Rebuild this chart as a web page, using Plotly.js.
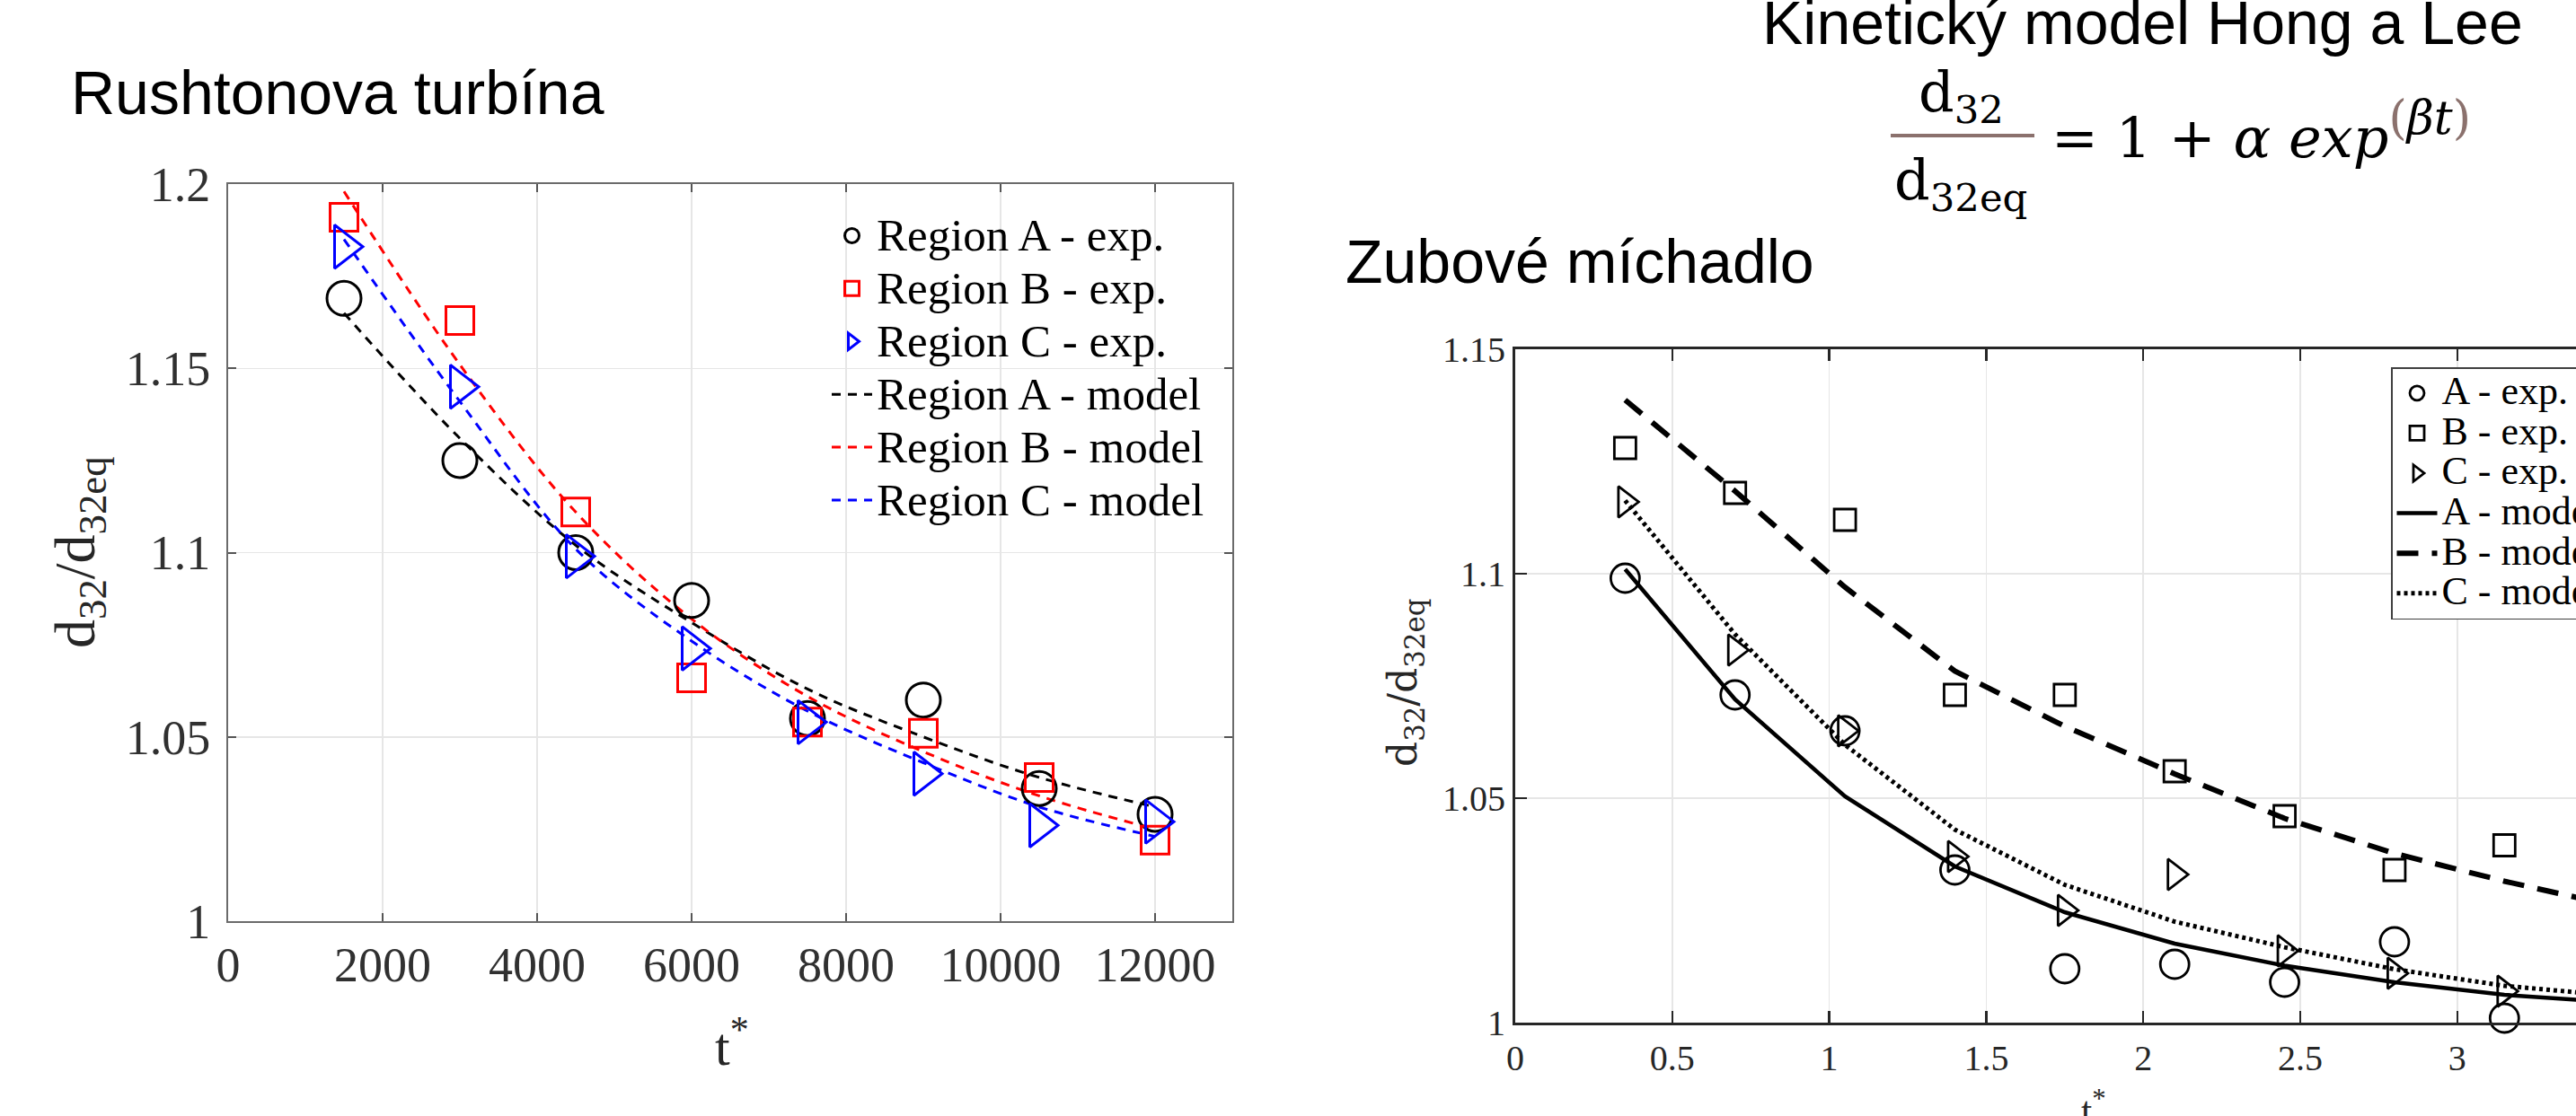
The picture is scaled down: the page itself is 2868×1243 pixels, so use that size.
<!DOCTYPE html>
<html><head><meta charset="utf-8">
<script src="https://cdn.plot.ly/plotly-3.0.1.min.js"></script>
<style>html,body{margin:0;padding:0;background:#fff;}#chart{width:2868px;height:1243px;}</style>
</head><body><div id="chart"></div>
<script>
// ---------- Left chart: Rushtonova turbína ----------
const tLeft = [1500, 3000, 4500, 6000, 7500, 9000, 10500, 12000];
const leftA_exp = [1.169, 1.125, 1.100, 1.087, 1.055, 1.060, 1.036, 1.029];
const leftB_exp = [1.191, 1.163, 1.111, 1.066, 1.054, 1.051, 1.039, 1.022];
const leftC_exp = [1.183, 1.145, 1.099, 1.074, 1.054, 1.040, 1.026, 1.027];
const leftA_model = [1.165, 1.131, 1.102, 1.081, 1.063, 1.050, 1.039, 1.031];
const leftB_model = [1.198, 1.151, 1.111, 1.082, 1.061, 1.046, 1.034, 1.025];
const leftC_model = [1.185, 1.141, 1.101, 1.076, 1.057, 1.043, 1.031, 1.023];
const leftNames = ['Region A - exp.', 'Region B - exp.', 'Region C - exp.',
                   'Region A - model', 'Region B - model', 'Region C - model'];

// ---------- Right chart: Zubové míchadlo ----------
const tRight = [0.35, 0.7, 1.05, 1.4, 1.75, 2.1, 2.45, 2.8, 3.15];
const rightA_exp = [1.099, 1.073, 1.065, 1.034, 1.012, 1.013, 1.009, 1.018, 1.001];
const rightB_exp = [1.128, 1.118, 1.112, 1.073, 1.073, 1.056, 1.046, 1.034, 1.0395];
const rightC_exp = [1.116, 1.083, 1.065, 1.037, 1.025, 1.033, 1.016, 1.011, 1.007];
const tRightModel = [0.35, 0.7, 1.05, 1.4, 1.75, 2.1, 2.45, 2.8, 3.15, 3.5];
const rightA_model = [1.101, 1.072, 1.0504, 1.0348, 1.0246, 1.0176, 1.0127, 1.009, 1.0062, 1.0045];
const rightB_model = [1.1387, 1.1184, 1.097, 1.0783, 1.066, 1.0554, 1.0455, 1.0377, 1.0315, 1.026];
const rightC_model = [1.1163, 1.0865, 1.0619, 1.043, 1.0307, 1.0225, 1.0168, 1.0119, 1.0082, 1.006];
const rightNames = ['A - exp.', 'B - exp.', 'C - exp.', 'A - model', 'B - model', 'C - model'];

const W = 2868, H = 1243;
const px = v => v / W;
const py = v => 1 - v / H;
const big = (s, sz) => '<span style="font-size:' + sz + 'px">' + s + '</span>';

const serif = 'Liberation Serif, Times New Roman, serif';
const colsL = ['#000000', '#ff0000', '#0000ff'];
const symsL = ['circle-open', 'square-open', 'triangle-right-open'];
const sizesL = [38, 31, 42];
const leftExp = [leftA_exp, leftB_exp, leftC_exp];
const leftMod = [leftA_model, leftB_model, leftC_model];

const data = [];
leftMod.forEach((ys, i) => data.push({
  x: tLeft, y: ys, type: 'scatter', mode: 'lines', xaxis: 'x', yaxis: 'y',
  name: big(leftNames[3 + i], 51), legend: 'legend', legendrank: 4 + i,
  line: {color: colsL[i], width: 3, dash: '10px,8px', shape: 'spline', smoothing: 1}
}));
leftExp.forEach((ys, i) => data.push({
  x: tLeft, y: ys, type: 'scatter', mode: 'markers', xaxis: 'x', yaxis: 'y',
  name: big(leftNames[i], 51), legend: 'legend', legendrank: 1 + i, cliponaxis: false,
  marker: {symbol: symsL[i], size: sizesL[i], color: colsL[i], line: {width: 3, color: colsL[i]}}
}));

const rightMod = [rightA_model, rightB_model, rightC_model];
const rightDash = ['solid', '24px,15px', '4px,4px'];
const rightW = [4.5, 6, 5];
rightMod.forEach((ys, i) => data.push({
  x: tRightModel, y: ys, type: 'scatter', mode: 'lines', xaxis: 'x2', yaxis: 'y2',
  name: big(rightNames[3 + i], 44), legend: 'legend2', legendrank: 4 + i,
  line: {color: '#000', width: rightW[i], dash: rightDash[i]}
}));
const rightExp = [rightA_exp, rightB_exp, rightC_exp];
const sizesR = [32, 24, 30];
rightExp.forEach((ys, i) => data.push({
  x: tRight, y: ys, type: 'scatter', mode: 'markers', xaxis: 'x2', yaxis: 'y2',
  name: big(rightNames[i], 44), legend: 'legend2', legendrank: 1 + i, cliponaxis: false,
  marker: {symbol: symsL[i], size: sizesR[i], color: '#000', line: {width: 2.8, color: '#000'}}
}));

const axL = {
  ticks: 'inside', ticklen: 9, tickwidth: 2, tickcolor: '#555',
  showline: true, linecolor: '#6b6b6b', linewidth: 2, mirror: 'ticks',
  showgrid: true, gridcolor: '#e6e6e6', gridwidth: 1.5, zeroline: false,
  tickfont: {family: serif, size: 54, color: '#303030'}
};
const axR = {
  ticks: 'inside', ticklen: 13, tickwidth: 2.5, tickcolor: '#262626',
  showline: true, linecolor: '#262626', linewidth: 3,
  showgrid: true, gridcolor: '#e6e6e6', gridwidth: 1.5, zeroline: false,
  tickfont: {family: serif, size: 40, color: '#262626'}
};

const layout = {
  width: W, height: H,
  margin: {l: 0, r: 0, t: 0, b: 0, pad: 0, autoexpand: false},
  paper_bgcolor: '#ffffff', plot_bgcolor: '#ffffff',
  showlegend: true,
  xaxis: Object.assign({}, axL, {domain: [px(254), px(1372)], range: [0, 13000], dtick: 2000, tick0: 0,
    tickformat: 'd', anchor: 'y', ticklabelstandoff: 0}),
  yaxis: Object.assign({}, axL, {domain: [py(1026), py(205)], range: [1, 1.2], dtick: 0.05, tick0: 1,
    anchor: 'x', ticklabelstandoff: 7}),
  xaxis2: Object.assign({}, axR, {domain: [px(1687), 1], range: [0, 3.378], dtick: 0.5, tick0: 0,
    anchor: 'y2', mirror: 'ticks', ticklabelstandoff: 2}),
  yaxis2: Object.assign({}, axR, {domain: [py(1139), py(389)], range: [1, 1.15], dtick: 0.05, tick0: 1,
    anchor: 'x2', mirror: false, ticklabelstandoff: 0}),
  legend: {x: px(921), y: py(228), xanchor: 'left', yanchor: 'top', bgcolor: 'rgba(0,0,0,0)',
    borderwidth: 0, itemwidth: 45, font: {family: serif, size: 43, color: '#000'}, traceorder: 'normal'},
  legend2: {x: px(2662), y: py(409), xanchor: 'left', yanchor: 'top', bgcolor: '#ffffff',
    bordercolor: '#404040', borderwidth: 1.5, itemwidth: 45,
    font: {family: serif, size: 32, color: '#000'}, traceorder: 'normal'},
  shapes: [
    {type: 'line', xref: 'paper', yref: 'paper', x0: px(2105), x1: px(2265), y0: py(151), y1: py(151),
     line: {color: '#8b716d', width: 4}}
  ],
  annotations: [
    {text: 'Rushtonova turbína', x: px(77), y: py(103), xanchor: 'left', yanchor: 'middle',
     font: {family: 'Liberation Sans, Arial, sans-serif', size: 68, color: '#000'}},
    {text: 'Kinetický model Hong a Lee', x: px(2385), y: py(25), xanchor: 'center', yanchor: 'middle',
     font: {family: 'Liberation Sans, Arial, sans-serif', size: 68, color: '#000'}},
    {text: 'Zubové míchadlo', x: px(1496), y: py(291), xanchor: 'left', yanchor: 'middle',
     font: {family: 'Liberation Sans, Arial, sans-serif', size: 68, color: '#000'}},
    {text: 'd<sub>32</sub>', x: px(2183), y: py(106), xanchor: 'center', yanchor: 'middle',
     font: {family: 'DejaVu Serif, serif', size: 62, color: '#000'}},
    {text: 'd<sub>32eq</sub>', x: px(2183), y: py(204), xanchor: 'center', yanchor: 'middle',
     font: {family: 'DejaVu Serif, serif', size: 62, color: '#000'}},
    {text: '= 1 + <i>α exp</i><sup><span style="font-size:52px"><span style="color:#8b716d">(</span><i>βt</i><span style="color:#8b716d">)</span></span></sup>',
     x: px(2282), y: py(146), xanchor: 'left', yanchor: 'middle',
     font: {family: 'DejaVu Serif, serif', size: 62, color: '#000'}},
    {text: 'd<sub>32</sub>/d<sub>32eq</sub>', x: px(88), y: py(615), xanchor: 'center', yanchor: 'middle',
     textangle: -90, font: {family: serif, size: 64, color: '#262626'}},
    {text: 't<sup>*</sup>', x: px(815), y: py(1161), xanchor: 'center', yanchor: 'middle',
     font: {family: serif, size: 60, color: '#262626'}},
    {text: 'd<sub>32</sub>/d<sub>32eq</sub>', x: px(1565), y: py(760), xanchor: 'center', yanchor: 'middle',
     textangle: -90, font: {family: 'DejaVu Serif, serif', size: 44, color: '#262626'}},
    {text: 't<sup>*</sup>', x: px(2331), y: py(1234), xanchor: 'center', yanchor: 'middle',
     font: {family: serif, size: 44, color: '#262626'}}
  ].map(a => Object.assign({xref: 'paper', yref: 'paper', showarrow: false}, a))
};

Plotly.newPlot('chart', data, layout, {displayModeBar: false, staticPlot: true});
</script>
</body></html>
